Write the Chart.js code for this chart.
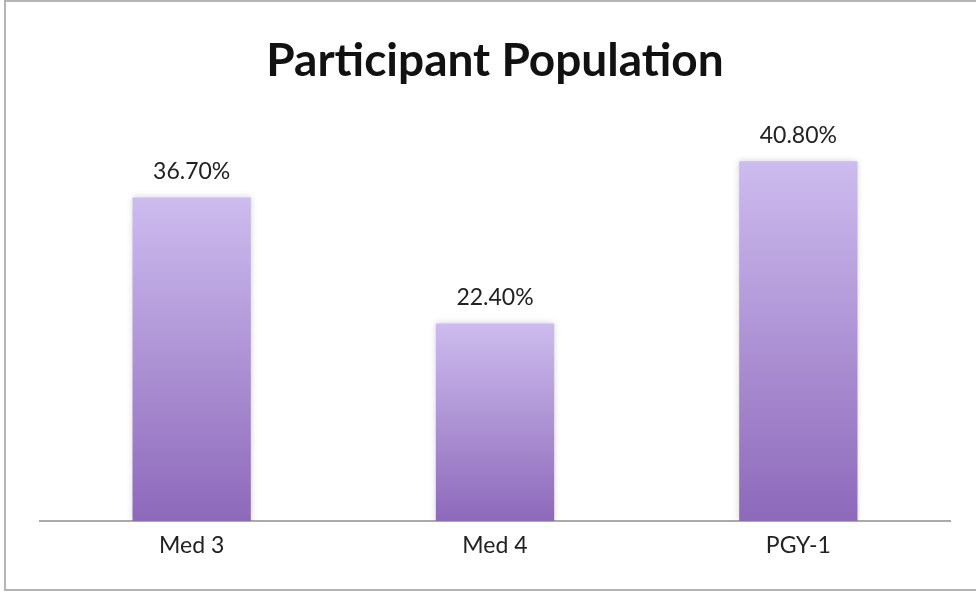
<!DOCTYPE html>
<html>
<head>
<meta charset="utf-8">
<script src="https://cdn.jsdelivr.net/npm/chart.js@4/dist/chart.umd.min.js"></script>
<style>
  html, body { margin: 0; padding: 0; background: #fff; }
  #wrap { position: relative; width: 976px; height: 594px; overflow: hidden; }
  #frame { position: absolute; left: 4px; top: 0; width: 980px; height: 591px; border: 2px solid #b4b4b4; box-sizing: border-box; }
  canvas { position: absolute; left: 0; top: 0; }
</style>
</head>
<body>
<div id="wrap">
  <div id="frame"></div>
  <canvas id="chartBar" width="976" height="594"></canvas>
</div>
<script>
// data
var categories = ['Med 3', 'Med 4', 'PGY-1'];
var shares = [36.7, 22.4, 40.8];
var shareLabels = ['36.70%', '22.40%', '40.80%'];

var fontFam = "Lato, 'Open Sans', sans-serif";

// per-bar light-to-dark purple
function barFill(ctx) {
	var chart = ctx.chart;
	var area = chart.chartArea;
	if (!area || ctx.parsed === undefined) return '#ad92d6';
	var top = chart.scales.y.getPixelForValue(ctx.parsed.y);
	var gr = chart.ctx.createLinearGradient(0, top, 0, area.bottom);
	gr.addColorStop(0, '#cdbcee');
	gr.addColorStop(1, '#8d69ba');
	return gr;
}

var softShadow = {
	id: 'softShadow',
	beforeDatasetsDraw: function(chart) {
		var c = chart.ctx;
		c.save();
		c.shadowColor = 'rgba(0,0,0,0.18)';
		c.shadowBlur = 6;
	},
	afterDatasetsDraw: function(chart) {
		chart.ctx.restore();
	}
};

var valueLabels = {
	id: 'valueLabels',
	afterDatasetsDraw: function(chart) {
		var c = chart.ctx;
		var meta = chart.getDatasetMeta(0);
		c.save();
		c.font = '23px ' + fontFam;
		c.fillStyle = '#222';
		c.textAlign = 'center';
		c.textBaseline = 'middle';
		meta.data.forEach(function(bar, i) {
			c.fillText(shareLabels[i], bar.x, bar.y - 26);
		});
		c.restore();
	}
};

var Bar = document.getElementById('chartBar').getContext('2d');
var chart = new Chart(Bar, {
	type: 'bar',
	data: {
		labels: categories,
		datasets: [{
			label: 'Participant Population',
			data: shares,
			backgroundColor: barFill,
			borderWidth: 0,
			barPercentage: 0.39,
			categoryPercentage: 1
		}]
	},
	options: {
		responsive: false,
		animation: false,
		layout: { padding: { left: 40, right: 26, top: 16, bottom: 3 } },
		plugins: {
			legend: { display: false },
			tooltip: { enabled: false },
			title: {
				display: true,
				text: 'Participant Population',
				color: '#111',
				font: { family: fontFam, size: 46, weight: 'bold', lineHeight: 1.2 },
				padding: { top: 18, bottom: 35 }
			}
		},
		scales: {
			y: { display: false, min: 0, max: 45 },
			x: {
				grid: { display: false, drawTicks: false },
				border: { display: true, color: '#aaaaaa', width: 2 },
				ticks: { color: '#222', font: { family: fontFam, size: 23 }, padding: 11 },
				afterFit: function(s) { s.height = 70; }
			}
		}
	},
	plugins: [softShadow, valueLabels]
});
</script>
</body>
</html>
